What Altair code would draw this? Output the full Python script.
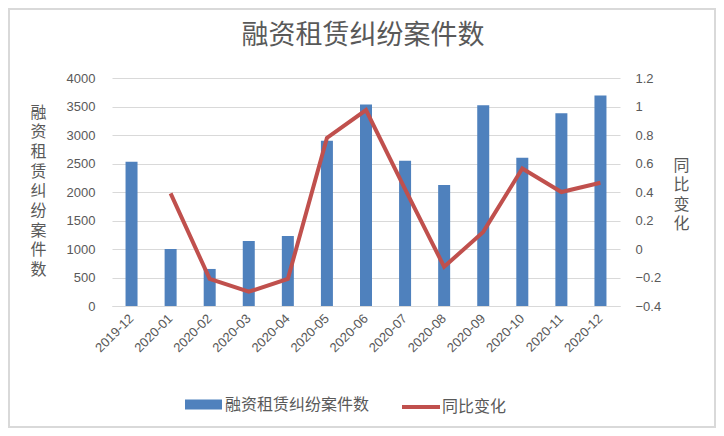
import altair as alt
import pandas as pd

months = ["2019-12", "2020-01", "2020-02", "2020-03", "2020-04", "2020-05", "2020-06",
          "2020-07", "2020-08", "2020-09", "2020-10", "2020-11", "2020-12"]
cases = [2530, 1000, 650, 1140, 1230, 2900, 3535, 2550, 2125, 3520, 2600, 3380, 3695]
yoy = [None, 0.39, -0.21, -0.30, -0.21, 0.78, 0.975, 0.42, -0.125, 0.12, 0.565, 0.40, 0.465]

bar_name = "融资租赁纠纷案件数"
line_name = "同比变化"

df = pd.DataFrame({"month": months, "cases": cases, "yoy": yoy})
df["s1"] = bar_name
df["s2"] = line_name

FONT = "Liberation Sans, Noto Sans CJK SC, sans-serif"
GREY = "#595959"

x = alt.X("month:N", sort=months,
          scale=alt.Scale(paddingInner=0.0, paddingOuter=0.0),
          axis=alt.Axis(title=None, labelAngle=-45, labelAlign="right", labelBaseline="middle",
                        labelFontSize=13, labelColor=GREY, labelFont=FONT, labelPadding=10,
                        ticks=False, domainColor="#d9d9d9", domainWidth=1, grid=False))

bars = alt.Chart(df).mark_bar(size=12).encode(
    x=x,
    y=alt.Y("cases:Q", scale=alt.Scale(domain=[0, 4000], nice=False),
            axis=alt.Axis(values=list(range(0, 4001, 500)), format="d", title=list(bar_name), titleAngle=0,
                          titleFontSize=16, titleFont=FONT, titleColor=GREY, titleFontWeight="normal",
                          titleLineHeight=19.7, titleX=-74, titleY=34, titleAlign="center",
                          titleBaseline="middle",
                          labelFontSize=13, labelColor=GREY, labelFont=FONT, labelPadding=17,
                          ticks=False, domain=False, gridColor="#d9d9d9", gridWidth=1)),
    color=alt.Color("s1:N", scale=alt.Scale(domain=[bar_name], range=["#4f81bd"]),
                    legend=alt.Legend(title=None, orient="none", legendX=73, legendY=308,
                                      symbolType="M-1,-0.27H1V0.27H-1Z", symbolSize=1369,
                                      symbolStrokeWidth=0, labelFontSize=16, labelFont=FONT,
                                      labelColor=GREY, labelOffset=3)),
)

line = alt.Chart(df).mark_line(strokeWidth=4).encode(
    x=x,
    y=alt.Y("yoy:Q", scale=alt.Scale(domain=[-0.4, 1.2], nice=False),
            axis=alt.Axis(orient="right", values=[-0.4, -0.2, 0, 0.2, 0.4, 0.6, 0.8, 1, 1.2],
                          format="~g", title=list(line_name), titleAngle=0,
                          titleFontSize=16, titleFont=FONT, titleColor=GREY, titleFontWeight="normal",
                          titleLineHeight=19.5, titleX=61, titleY=87, titleAlign="center",
                          titleBaseline="middle",
                          labelFontSize=13, labelColor=GREY, labelFont=FONT, labelPadding=15,
                          ticks=False, domain=False, grid=False)),
    stroke=alt.Stroke("s2:N", scale=alt.Scale(domain=[line_name], range=["#c0504d"]),
                      legend=alt.Legend(title=None, orient="none", legendX=288, legendY=308,
                                        symbolType="stroke", symbolSize=1444, symbolStrokeWidth=4,
                                        labelFontSize=16, labelFont=FONT, labelColor=GREY,
                                        labelOffset=0)),
)

frame = alt.Chart(df).mark_rect(fill=None, stroke="#d9d9d9", strokeWidth=2).encode(
    x=alt.value(-103), x2=alt.value(603), y=alt.value(-69), y2=alt.value(349)
)

chart = alt.layer(frame, bars, line).resolve_scale(y="independent", color="independent").properties(
    width=508, height=228,
    padding={"left": 104, "top": 70, "right": 96, "bottom": 122},
    autosize=alt.AutoSizeParams(type="none"),
    title=alt.TitleParams(text="融资租赁纠纷案件数", fontSize=27, font=FONT, color=GREY,
                          fontWeight="normal", anchor="middle", frame="group", dx=-3, offset=-42),
).configure_view(stroke=None)

chart.save("out.html", embed_options={"renderer": "svg", "actions": False})
